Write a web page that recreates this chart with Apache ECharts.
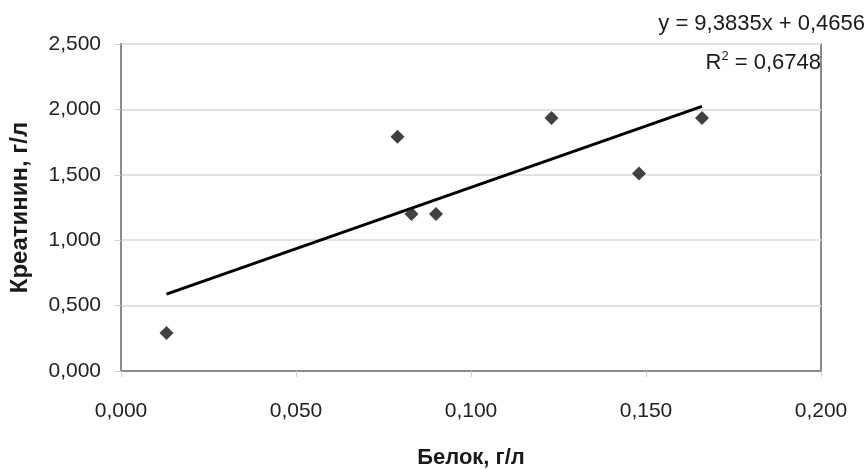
<!DOCTYPE html>
<html>
<head>
<meta charset="utf-8">
<script src="https://cdn.jsdelivr.net/npm/echarts@6/dist/echarts.min.js"></script>
<style>
html,body{margin:0;padding:0;background:#fff;}
#chart{width:868px;height:470px;}
</style>
</head>
<body>
<div id="chart"></div>
<script>
// Data
var proteinX = [0.013, 0.079, 0.083, 0.090, 0.123, 0.148, 0.166];
var creatinineY = [0.290, 1.790, 1.200, 1.200, 1.935, 1.510, 1.935];
// Trendline endpoints (y = 9,3835x + 0,4656 over the data range)
var trendX = [0.013, 0.166];
var trendY = [0.588, 2.023];
var xTicks = [0, 0.05, 0.1, 0.15, 0.2];
var yTicks = [0, 0.5, 1.0, 1.5, 2.0, 2.5];
var eqText = 'y = 9,3835x + 0,4656';
var r2Value = '0,6748';
var xName = 'Белок, г/л';
var yName = 'Креатинин, г/л';

var points = proteinX.map(function (x, i) { return [x, creatinineY[i]]; });
var trend = trendX.map(function (x, i) { return [x, trendY[i]]; });
function fmt(v) { return v.toFixed(3).replace('.', ','); }

var FONT = '"Liberation Sans", Arial, sans-serif';
var chart = echarts.init(document.getElementById('chart'), null, {renderer: 'canvas'});
chart.setOption({
  animation: false,
  backgroundColor: '#fff',
  textStyle: {fontFamily: FONT},
  grid: {left: 121, right: 47, top: 44, bottom: 99, outerBoundsMode: 'none', containLabel: false,
         show: true, borderColor: '#8a8a8a', borderWidth: 2, backgroundColor: 'transparent'},
  xAxis: {
    type: 'value', min: xTicks[0], max: xTicks[xTicks.length - 1], interval: 0.05,
    name: xName, nameLocation: 'middle', nameGap: 76,
    nameTextStyle: {fontFamily: FONT, fontSize: 22, fontWeight: 'bold', color: '#1a1a1a', verticalAlign: 'top'},
    axisLine: {show: true, lineStyle: {color: '#8a8a8a', width: 2}},
    axisTick: {show: true, length: 6, lineStyle: {color: '#d0d0d0', width: 1}},
    axisLabel: {margin: 30, fontSize: 21, color: '#222', fontFamily: FONT, formatter: fmt},
    splitLine: {show: false}
  },
  yAxis: {
    type: 'value', min: yTicks[0], max: yTicks[yTicks.length - 1], interval: 0.5,
    name: yName, nameLocation: 'middle', nameGap: 89, nameRotate: 90,
    nameTextStyle: {fontFamily: FONT, fontSize: 24, fontWeight: 'bold', color: '#1a1a1a'},
    axisLine: {show: true, lineStyle: {color: '#8a8a8a', width: 2}},
    axisTick: {show: true, length: 6, lineStyle: {color: '#d0d0d0', width: 1}},
    axisLabel: {margin: 20, fontSize: 21, color: '#222', fontFamily: FONT, formatter: fmt},
    splitLine: {show: true, lineStyle: {color: '#e2e2e2', width: 2}}
  },
  series: [
    {
      type: 'line', data: trend, showSymbol: false, symbol: 'none',
      lineStyle: {color: '#000', width: 3}, z: 3
    },
    {
      type: 'scatter', data: points, symbol: 'diamond', symbolSize: 14,
      itemStyle: {color: '#111'}, z: 4
    }
  ],
  graphic: [
    {
      type: 'text', right: 3, top: 13,
      style: {text: eqText, font: '22px ' + FONT, fill: '#1a1a1a'}
    },
    {
      type: 'text', right: 47, top: 50,
      style: {
        text: '{b|R}{s|2}{b| = ' + r2Value + '}',
        rich: {
          b: {font: '22px ' + FONT, fill: '#1a1a1a', verticalAlign: 'bottom'},
          s: {font: '13px ' + FONT, fill: '#1a1a1a', verticalAlign: 'top', padding: [0, 0, 11, 0]}
        }
      }
    }
  ]
});
</script>
</body>
</html>
